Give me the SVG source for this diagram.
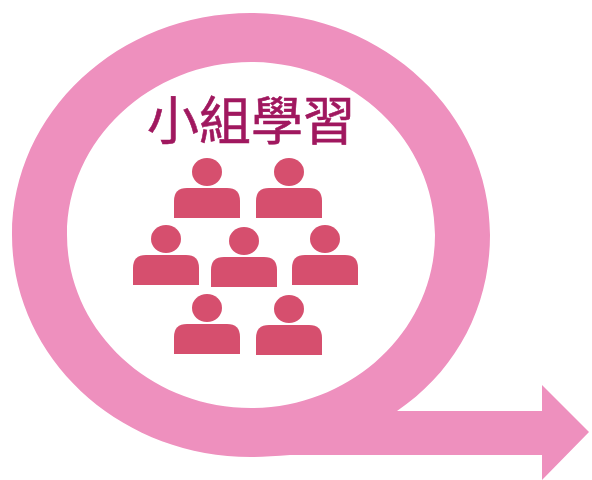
<svg xmlns="http://www.w3.org/2000/svg" width="592" height="480" viewBox="0 0 592 480">
<defs>
<g id="p"><ellipse cx="0" cy="-15" rx="15" ry="14"/><path d="M-33 31V14Q-33 1 -20 1H20Q33 1 33 14V31Z"/></g>
</defs>
<style>.p{fill:#d64f6e}.r{fill:#ee90be}text{font-family:"Noto Sans CJK TC","Noto Sans CJK SC",sans-serif;fill:#a0185f;stroke:#a0185f;stroke-width:.6px;font-size:52px}</style>
<g id="ring"><path class="r" fill-rule="evenodd" d="M251 13C118 13 12 113 12 235C12 357 118 457 251 457C262 457 275 456 290 455H542V480L589 432L542 385V411H397C455 372 490 308 490 235C490 113 384 13 251 13ZM251 62C150 62 67 140 67 235C67 330 150 408 251 408C352 408 435 330 435 235C435 140 352 62 251 62Z"/></g>
<g id="label"><text x="251" y="140" text-anchor="middle">小組學習</text></g>
<g id="n1" class="p"><use href="#p" transform="translate(207 187)"/></g>
<g id="n2" class="p"><use href="#p" transform="translate(289 187)"/></g>
<g id="n3" class="p"><use href="#p" transform="translate(166 254)"/></g>
<g id="n4" class="p"><use href="#p" transform="translate(244 256)"/></g>
<g id="n5" class="p"><use href="#p" transform="translate(325 254)"/></g>
<g id="n6" class="p"><use href="#p" transform="translate(207 323)"/></g>
<g id="n7" class="p"><use href="#p" transform="translate(289 324)"/></g>
</svg>
